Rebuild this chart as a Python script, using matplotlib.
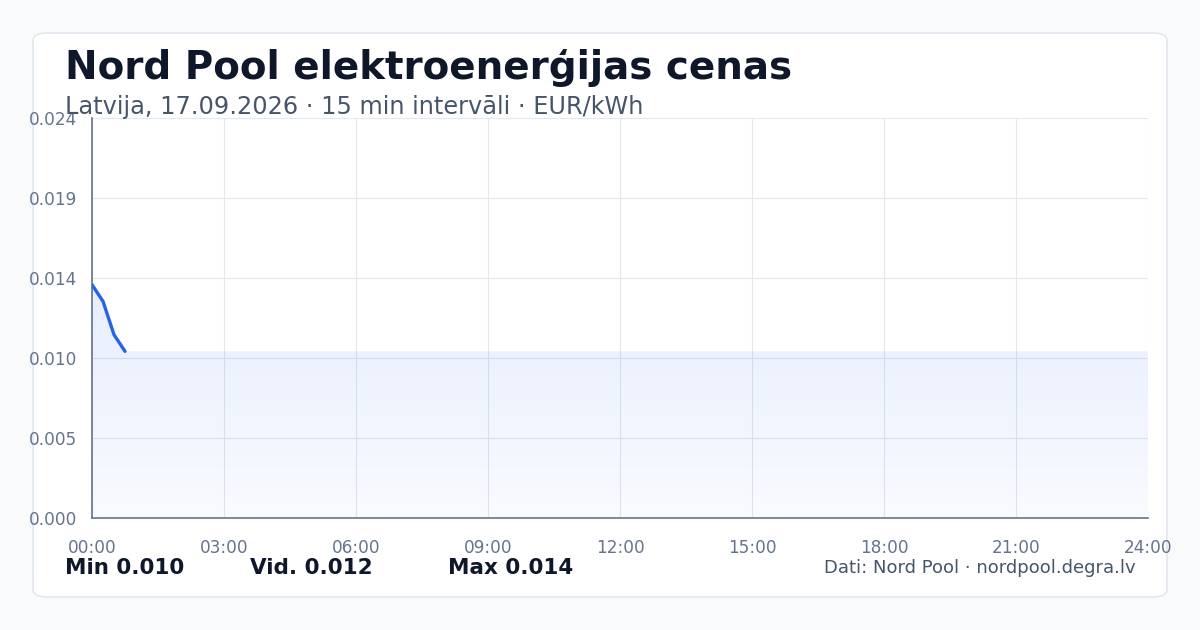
import matplotlib
matplotlib.use('Agg')
import matplotlib.pyplot as plt
import numpy as np
from matplotlib.patches import FancyBboxPatch, Polygon
from matplotlib.colors import LinearSegmentedColormap

# data: 15 min intervals, hours from midnight
hours = [0.0, 0.25, 0.5, 0.75]
prices = [0.0140, 0.0130, 0.0110, 0.0100]
y_ticks = [0.0, 0.0048, 0.0096, 0.0144, 0.0192, 0.024]
x_ticks = [0, 3, 6, 9, 12, 15, 18, 21, 24]
x_labels = ['00:00', '03:00', '06:00', '09:00', '12:00', '15:00', '18:00', '21:00', '24:00']
title = 'Nord Pool elektroenerģijas cenas'
subtitle = 'Latvija, 17.09.2026 · 15 min intervāli · EUR/kWh'
stats = ['Min 0.010', 'Vid. 0.012', 'Max 0.014']
source = 'Dati: Nord Pool · nordpool.degra.lv'

plt.rcParams['font.family'] = ['DejaVu Sans']

fig = plt.figure(figsize=(12, 6.3), dpi=100)
fig.patch.set_facecolor('#f8fafc')

# card behind everything
card = FancyBboxPatch((33 / 1200, 33 / 630), 1134 / 1200, 564 / 630,
                      boxstyle='round,pad=0,rounding_size=0.012',
                      transform=fig.transFigure, facecolor='white',
                      edgecolor='#e2e8f0', linewidth=1.2, zorder=-10)
fig.patches.append(card)

ax = fig.add_axes([92 / 1200, 112 / 630, 1056 / 1200, 400 / 630])
ax.set_facecolor('none')

# area: line values, then held at last value till end of day
xs = hours + [24]
ys = prices + [prices[-1]]
verts = [(xs[0], 0)] + list(zip(xs, ys)) + [(xs[-1], 0)]
clip = Polygon(verts, closed=True, facecolor='none', edgecolor='none')
ax.add_patch(clip)
grad = np.linspace(0, 1, 256).reshape(-1, 1)
cmap = LinearSegmentedColormap.from_list('fade', [(0.145, 0.388, 0.922, 0.03),
                                                  (0.145, 0.388, 0.922, 0.11)])
im = ax.imshow(grad, extent=[0, 24, 0, max(prices)], origin='lower', aspect='auto',
               cmap=cmap, zorder=1)
im.set_clip_path(clip)
ax.set_xlim(0, 24)
ax.set_ylim(0, 0.024)

ax.plot(hours, prices, color='#2563eb', linewidth=2.4, solid_capstyle='round',
        solid_joinstyle='round', zorder=3)

ax.set_xticks(x_ticks)
ax.set_xticklabels(x_labels)
ax.set_yticks(y_ticks)
ax.set_yticklabels(['%.3f' % v for v in y_ticks])
ax.grid(True, color='#e2e8f0', linewidth=0.8)
ax.set_axisbelow(True)
ax.tick_params(length=0, colors='#64748b', labelsize=12.2)
ax.tick_params(axis='x', pad=15)
ax.tick_params(axis='y', pad=10.5)
for lab in ax.get_yticklabels():
    lab.set_verticalalignment('center_baseline')
for s in ['top', 'right']:
    ax.spines[s].set_visible(False)
for s in ['left', 'bottom']:
    ax.spines[s].set_color('#64748b')
    ax.spines[s].set_linewidth(1.2)

fig.text(65 / 1200, 1 - 68 / 630, title, fontsize=28, fontweight='bold',
         color='#0f172a', va='center')
fig.text(65 / 1200, 1 - 107 / 630, subtitle, fontsize=17.3, color='#475569', va='center')

for x, s in zip([65, 250, 448], stats):
    fig.text(x / 1200, 1 - 568 / 630, s, fontsize=15.5, fontweight='bold',
             color='#0f172a', va='center')
fig.text(1136 / 1200, 1 - 568 / 630, source, fontsize=13, color='#475569',
         va='center', ha='right')

fig.savefig('out.png', dpi=100, facecolor=fig.get_facecolor())
